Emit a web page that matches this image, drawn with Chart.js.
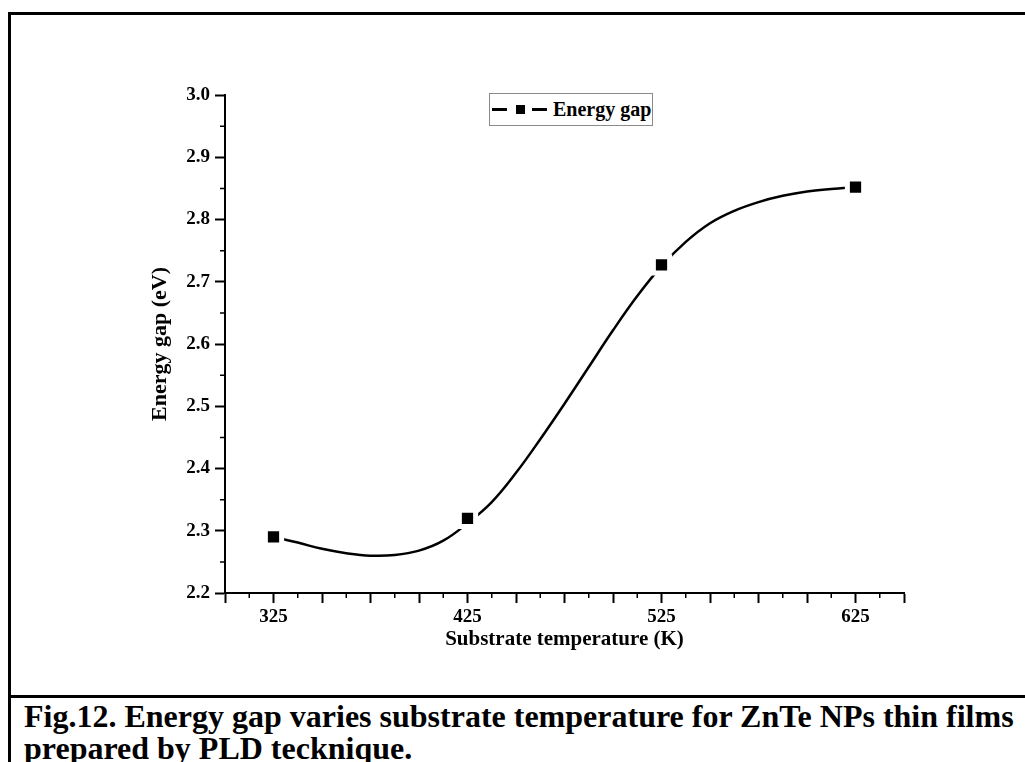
<!DOCTYPE html>
<html>
<head>
<meta charset="utf-8">
<script src="https://cdn.jsdelivr.net/npm/chart.js@4"></script>
<style>
  html, body { margin: 0; padding: 0; background: #fff; overflow: hidden; }
  body { width: 1025px; height: 762px; position: relative; font-family: 'Liberation Serif', serif; }
  #frame { position: absolute; left: 8px; top: 12px; width: 1040px; height: 680px; border: 3px solid #000; }
  #capbox { position: absolute; left: 8px; top: 695px; width: 1040px; height: 100px; border-left: 3px solid #000; }
  #caption { position: absolute; left: 24px; top: 700px; width: 1100px; font-weight: bold; font-size: 32px; line-height: 32px; color: #000; white-space: nowrap; }
  #wrap { position: absolute; left: 0; top: 0; width: 1025px; height: 692px; }
  #legend { position: absolute; left: 489px; top: 93px; width: 162px; height: 31px; border: 1px solid #8a8a8a; background: #fff;
            font-weight: bold; font-size: 20px; line-height: 31px; color: #000; white-space: nowrap; }
  #legend .ln { position: absolute; top: 14px; width: 15px; height: 3px; background: #000; }
  #legend .sq { position: absolute; top: 11px; left: 26px; width: 9px; height: 9px; background: #000; }
  #legend .tx { position: absolute; left: 63px; top: 0; }
</style>
</head>
<body>
<div id="frame"></div>
<div id="capbox"></div>
<div id="wrap"><canvas id="chart"></canvas></div>
<div id="legend"><span class="ln" style="left:2px"></span><span class="sq"></span><span class="ln" style="left:42px"></span><span class="tx">Energy gap</span></div>
<div id="caption">Fig.12. Energy gap varies substrate temperature for ZnTe NPs thin films<br>prepared by PLD tecknique.</div>
<script>
// measured points
var temps = [325, 425, 525, 625];
var gaps = [2.29, 2.32, 2.727, 2.852];

// smooth curve
var curveT = [325, 337.5, 350, 362.5, 375, 387.5, 400, 412.5, 425, 437.5, 450, 462.5, 475, 487.5, 500, 512.5, 525, 537.5, 550, 562.5, 575, 587.5, 600, 612.5, 625];
var curveE = [2.290, 2.281, 2.271, 2.264, 2.260, 2.261, 2.268, 2.284, 2.312, 2.346, 2.393, 2.447, 2.504, 2.563, 2.622, 2.677, 2.725, 2.764, 2.794, 2.814, 2.828, 2.838, 2.845, 2.849, 2.852];

var xLabels = [325, 425, 525, 625];

Chart.defaults.font.family = "'Liberation Serif', serif";
Chart.defaults.font.weight = 'bold';
Chart.defaults.color = '#000';

// small ticks half way between the big ones
var minorTicks = {
    id: 'minorTicks',
    afterDraw: function(chart) {
        var c = chart.ctx;
        var xs = chart.scales.x, ys = chart.scales.y;
        c.save();
        c.strokeStyle = '#000';
        c.lineWidth = 1.5;
        c.beginPath();
        for (var i = 0; i < xs.ticks.length - 1; i++) {
            var px = xs.getPixelForValue((xs.ticks[i].value + xs.ticks[i + 1].value) / 2);
            c.moveTo(px, xs.top);
            c.lineTo(px, xs.top + 5);
        }
        for (var j = 0; j < ys.ticks.length - 1; j++) {
            var py = ys.getPixelForValue((ys.ticks[j].value + ys.ticks[j + 1].value) / 2);
            c.moveTo(ys.right, py);
            c.lineTo(ys.right - 5, py);
        }
        c.stroke();
        c.restore();
    }
};

var ctx = document.getElementById('chart').getContext('2d');
var myChart = new Chart(ctx, {
    type: 'scatter',
    data: {
        datasets: [{
            label: 'Energy gap',
            data: temps.map(function(t, i) { return {x: t, y: gaps[i]}; }),
            pointStyle: 'rect',
            pointRadius: 11.5,
            pointBackgroundColor: '#000',
            pointBorderColor: '#fff',
            pointBorderWidth: 5,
            showLine: false
        }, {
            label: 'curve',
            data: curveT.map(function(t, i) { return {x: t, y: curveE[i]}; }),
            showLine: true,
            borderColor: '#000',
            borderWidth: 2.5,
            pointRadius: 0,
            tension: 0.4
        }]
    },
    options: {
        responsive: true,
        maintainAspectRatio: false,
        animation: false,
        layout: { padding: { left: 0, right: 121, top: 95, bottom: 0 } },
        plugins: { legend: { display: false }, tooltip: { enabled: false } },
        scales: {
            x: {
                type: 'linear',
                min: 300,
                max: 650,
                afterFit: function(s) { s.height = 99; },
                ticks: {
                    stepSize: 25,
                    padding: 3,
                    maxRotation: 0,
                    autoSkip: false,
                    font: { size: 19, weight: 'bold' },
                    callback: function(v) { return xLabels.indexOf(v) >= 0 ? String(v) : ''; }
                },
                grid: { drawOnChartArea: false, drawTicks: true, tickLength: 10, tickWidth: 2, tickColor: '#000' },
                border: { display: true, color: '#000', width: 2 },
                title: { display: true, text: 'Substrate temperature (K)', font: { size: 21, weight: 'bold' }, padding: { top: 0, bottom: 40 } }
            },
            y: {
                min: 2.2,
                max: 3.0,
                afterFit: function(s) { s.width = 225; },
                ticks: {
                    stepSize: 0.1,
                    padding: 5,
                    font: { size: 19, weight: 'bold' },
                    callback: function(v) { return v.toFixed(1); }
                },
                grid: { drawOnChartArea: false, drawTicks: true, tickLength: 10, tickWidth: 2, tickColor: '#000' },
                border: { display: true, color: '#000', width: 2 },
                title: { display: true, text: 'Energy gap (eV)', font: { size: 22, weight: 'bold' }, padding: { top: 147, bottom: 0 } }
            }
        }
    },
    plugins: [minorTicks]
});
</script>
</body>
</html>
